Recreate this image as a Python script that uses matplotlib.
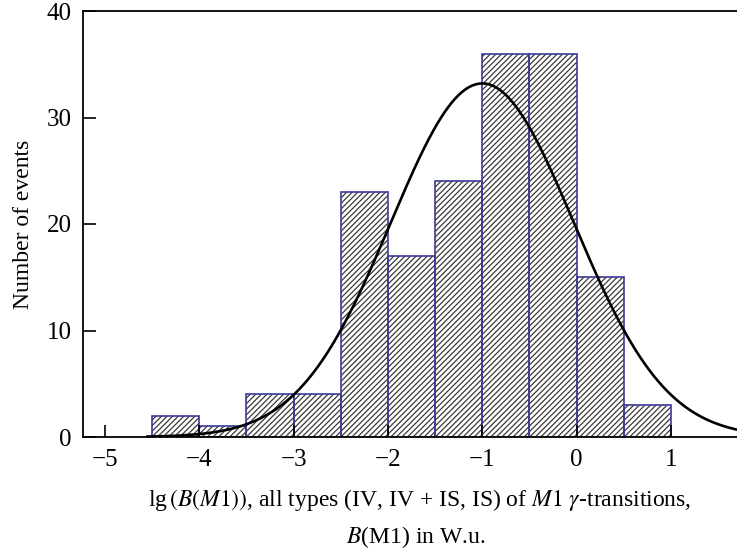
import numpy as np
import matplotlib
matplotlib.use('Agg')
import matplotlib.pyplot as plt

plt.rcParams['font.family'] = 'serif'
plt.rcParams['font.serif'] = ['Liberation Serif', 'DejaVu Serif']
plt.rcParams['mathtext.fontset'] = 'stix'
plt.rcParams['hatch.linewidth'] = 0.9

# histogram bins (left edges, width 0.5) and counts
bin_left = [-4.5, -4.0, -3.5, -3.0, -2.5, -2.0, -1.5, -1.0, -0.5, 0.0, 0.5]
counts = [2, 1, 4, 4, 23, 17, 24, 36, 36, 15, 3]
bin_width = 0.5

# gaussian fit
g_mean = -1.0
g_sigma = 0.97
g_peak = 33.2
x_fit = np.linspace(-4.55, 1.75, 400)
y_fit = g_peak * np.exp(-(x_fit - g_mean) ** 2 / (2 * g_sigma ** 2))

fig = plt.figure(figsize=(7.37, 5.55), dpi=100)
ax = fig.add_axes([83 / 737, 1 - 437 / 555, 1 - 83 / 737, (437 - 11) / 555])

# hatch layer then blue outline on top
ax.bar(bin_left, counts, width=bin_width, align='edge', color='white',
       edgecolor='#3a3a3a', hatch='//////', linewidth=0)
ax.bar(bin_left, counts, width=bin_width, align='edge', fill=False,
       edgecolor='#3b3b9a', linewidth=1.2)

ax.plot(x_fit, y_fit, color='black', lw=1.9)

ax.set_xlim(-5.233, 1.70)
ax.set_ylim(0, 40)
ax.set_xticks([-5, -4, -3, -2, -1, 0, 1])
ax.set_yticks([0, 10, 20, 30, 40])
ax.set_xticklabels(['\u22125', '\u22124', '\u22123', '\u22122', '\u22121', '0', '1'])
ax.tick_params(direction='in', length=9, width=1.2, labelsize=18,
               top=False, right=False)
ax.tick_params(axis='x', pad=9)
ax.tick_params(axis='y', pad=8)
for s in ['left', 'bottom', 'top']:
    ax.spines[s].set_linewidth(1.3)
ax.spines['right'].set_visible(False)

ax.set_ylabel('Number of events', fontsize=17, labelpad=9)
fig.text(420 / 737, 1 - 500 / 555,
         r'lg$\,(B(M1))$, all types (IV, IV + IS, IS) of $M1$ $\gamma$-transitions,',
         ha='center', va='center', fontsize=17)
fig.text(416 / 737, 1 - 537 / 555,
         r'$B$(M1) in W.u.', ha='center', va='center', fontsize=17)

fig.savefig('out.png', dpi=100)
